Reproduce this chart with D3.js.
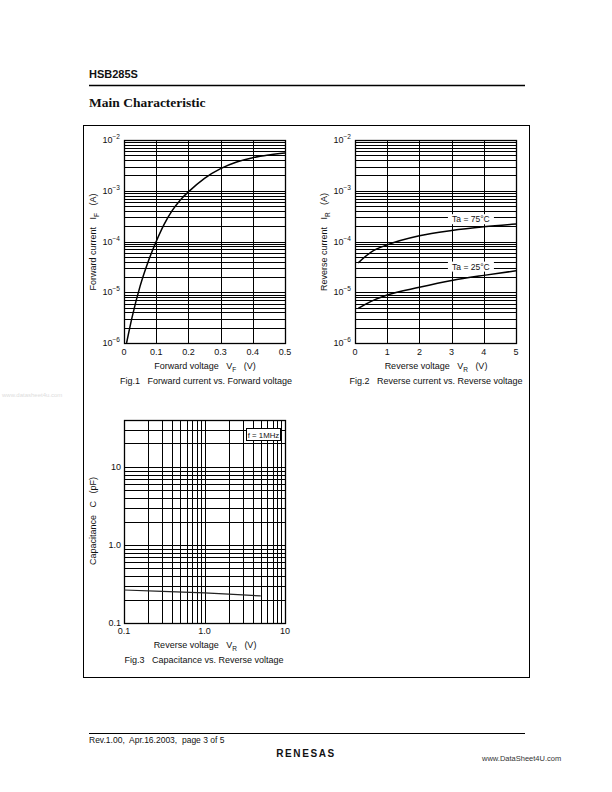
<!DOCTYPE html>
<html><head><meta charset="utf-8">
<script src="https://cdn.jsdelivr.net/npm/d3@7"></script>
<style>
body{margin:0;background:#fff;}
svg{display:block;}
text{font-family:"Liberation Sans",Arial,sans-serif;fill:#111;white-space:pre;}
</style></head>
<body>
<svg id="c" width="612" height="792"></svg>
<script>
// ---- data ----
const fig1Voltage = [0.008, 0.025, 0.05, 0.075, 0.1, 0.125, 0.15, 0.175, 0.2, 0.25, 0.3, 0.35, 0.4, 0.45, 0.5];
const fig1Current = [1e-6, 3.2e-6, 1.32e-5, 4.0e-5, 1.0e-4, 2.2e-4, 4.1e-4, 6.6e-4, 9.5e-4, 1.76e-3, 2.73e-3, 3.68e-3, 4.48e-3, 5.08e-3, 5.57e-3];
const fig1XTicks = [0, 0.1, 0.2, 0.3, 0.4, 0.5];
const fig1XTickLabels = ["0", "0.1", "0.2", "0.3", "0.4", "0.5"];

const fig2Voltage = [0.1, 0.5, 1, 2, 3, 4, 5];
const fig2Current75 = [3.8e-5, 6.2e-5, 8.6e-5, 1.3e-4, 1.65e-4, 1.95e-4, 2.2e-4];
const fig2Current25 = [4.8e-6, 6.6e-6, 8.8e-6, 1.25e-5, 1.7e-5, 2.15e-5, 2.65e-5];
const fig2XTicks = [0, 1, 2, 3, 4, 5];
const fig2SeriesLabels = ["Ta = 75°C", "Ta = 25°C"];

const logYTicks = [1e-6, 1e-5, 1e-4, 1e-3, 1e-2];
const logYExponents = ["−6", "−5", "−4", "−3", "−2"];

const fig3Voltage = [0.1, 0.3, 1, 2, 5];
const fig3Capacitance = [0.265, 0.255, 0.243, 0.235, 0.222];
const fig3XTicks = [0.1, 1, 10];
const fig3XTickLabels = ["0.1", "1.0", "10"];
const fig3YTicks = [0.1, 1, 10];
const fig3YTickLabels = ["0.1", "1.0", "10"];
const fig3Note = "f = 1MHz";

const svg = d3.select("#c");
const black = "#000";

// ---- page header / frame ----
svg.append("text").attr("x", 89).attr("y", 78).attr("font-size", 11).attr("font-weight", "bold").text("HSB285S");
svg.append("line").attr("x1", 89).attr("x2", 525).attr("y1", 85.5).attr("y2", 85.5).attr("stroke", black).attr("stroke-width", 1.3);
svg.append("text").attr("x", 89).attr("y", 107).attr("font-size", 13.5).attr("font-weight", "bold")
  .style("font-family", "'Liberation Serif','Times New Roman',serif").text("Main Characteristic");
svg.append("rect").attr("x", 83.5).attr("y", 125.5).attr("width", 446).attr("height", 552)
  .attr("fill", "none").attr("stroke", black).attr("stroke-width", 1);

// footer
svg.append("line").attr("x1", 89).attr("x2", 525).attr("y1", 733.5).attr("y2", 733.5).attr("stroke", black).attr("stroke-width", 1);
svg.append("text").attr("x", 89).attr("y", 743).attr("font-size", 8.5).text("Rev.1.00,  Apr.16.2003,  page 3 of 5");
svg.append("text").attr("x", 306).attr("y", 757).attr("font-size", 10).attr("font-weight", "bold")
  .attr("text-anchor", "middle").attr("letter-spacing", 1.6).text("RENESAS");
svg.append("text").attr("x", 482).attr("y", 761).attr("font-size", 7.5).style("fill", "#333").text("www.DataSheet4U.com");
svg.append("text").attr("x", 2).attr("y", 397).attr("font-size", 6).style("fill", "#ddd").text("www.datasheet4u.com");

function supLabel(g, x, y, exp) {
  const t = g.append("text").attr("x", x).attr("y", y).attr("text-anchor", "end").attr("font-size", 9);
  t.append("tspan").text("10");
  t.append("tspan").attr("dy", -4).attr("font-size", 6.5).text(exp);
}

function subTitle(g, x, y, pre, sym, sub, unit, rotate) {
  const t = g.append("text").attr("font-size", 9).attr("text-anchor", "middle");
  if (rotate) t.attr("transform", `translate(${x},${y}) rotate(-90)`);
  else t.attr("x", x).attr("y", y);
  t.append("tspan").text(pre + "   " + sym);
  t.append("tspan").attr("dy", 2.5).attr("font-size", 6.5).text(sub);
  t.append("tspan").attr("dy", -2.5).text("   " + unit);
}

function logMinor(lo, hi) {
  const out = [];
  for (let e = Math.floor(Math.log10(lo) + 1e-9); e < Math.log10(hi) - 1e-9; e++) {
    for (let m = 1; m <= 9; m++) {
      const v = m * Math.pow(10, e);
      if (v >= lo * 0.999 && v <= hi * 1.001) out.push(v);
    }
  }
  if (!out.some(v => Math.abs(v - hi) / hi < 1e-6)) out.push(hi);
  return out;
}

// ---- Fig 1 & 2: linear x, log y ----
function logPlot(opt) {
  const g = svg.append("g");
  const x = d3.scaleLinear().domain(opt.xDomain).range([opt.left, opt.right]);
  const y = d3.scaleLog().domain([1e-6, 1e-2]).range([opt.bottom, opt.top]);
  const grid = g.append("g").attr("stroke", black).attr("stroke-width", 1).attr("shape-rendering", "crispEdges");
  logMinor(1e-6, 1e-2).forEach(v => {
    grid.append("line").attr("x1", opt.left).attr("x2", opt.right).attr("y1", Math.round(y(v)) + 0.5).attr("y2", Math.round(y(v)) + 0.5);
  });
  opt.xTicks.forEach(v => {
    grid.append("line").attr("y1", opt.top).attr("y2", opt.bottom).attr("x1", Math.round(x(v)) + 0.5).attr("x2", Math.round(x(v)) + 0.5);
  });
  g.append("rect").attr("x", opt.left + 0.5).attr("y", opt.top + 0.5).attr("width", opt.right - opt.left).attr("height", opt.bottom - opt.top)
    .attr("fill", "none").attr("stroke", black).attr("stroke-width", 1.3);
  logYTicks.forEach((v, i) => supLabel(g, opt.left - 4, y(v) + 3, logYExponents[i]));
  opt.xTicks.forEach((v, i) => {
    g.append("text").attr("x", x(v)).attr("y", opt.bottom + 12).attr("text-anchor", "middle").attr("font-size", 9).text(opt.xLabels[i]);
  });
  const line = d3.line().x(d => x(d[0])).y(d => y(d[1])).curve(d3.curveMonotoneX);
  opt.series.forEach(s => {
    g.append("path").attr("d", line(d3.zip(s.x, s.y))).attr("fill", "none").attr("stroke", black).attr("stroke-width", 1.5);
  });
  return {g, x, y};
}

const p1 = logPlot({left: 124, right: 285, top: 140, bottom: 343, xDomain: [0, 0.5], xTicks: fig1XTicks, xLabels: fig1XTickLabels,
  series: [{x: fig1Voltage, y: fig1Current}]});
subTitle(p1.g, 96, 242, "Forward current", "I", "F", "(A)", true);
subTitle(p1.g, 205, 369, "Forward voltage", "V", "F", "(V)", false);
p1.g.append("text").attr("x", 206).attr("y", 384).attr("text-anchor", "middle").attr("font-size", 9).text("Fig.1   Forward current vs. Forward voltage");

const p2 = logPlot({left: 355, right: 516, top: 140, bottom: 343, xDomain: [0, 5], xTicks: fig2XTicks, xLabels: fig2XTicks.map(String),
  series: [{x: fig2Voltage, y: fig2Current75}, {x: fig2Voltage, y: fig2Current25}]});
subTitle(p2.g, 327, 242, "Reverse current", "I", "R", "(A)", true);
subTitle(p2.g, 436, 369, "Reverse voltage", "V", "R", "(V)", false);
p2.g.append("text").attr("x", 436).attr("y", 384).attr("text-anchor", "middle").attr("font-size", 9).text("Fig.2   Reverse current vs. Reverse voltage");
const labelPos = [[3.6, 2.75e-4], [3.6, 3.2e-5]];
fig2SeriesLabels.forEach((lab, i) => {
  const cx = p2.x(labelPos[i][0]), cy = p2.y(labelPos[i][1]);
  p2.g.append("rect").attr("x", cx - 23).attr("y", cy - 5).attr("width", 46).attr("height", 10).attr("fill", "#fff");
  p2.g.append("text").attr("x", cx).attr("y", cy + 3.2).attr("text-anchor", "middle").attr("font-size", 8.5).text(lab);
});

// ---- Fig 3: log x, log y ----
(function () {
  const left = 124, right = 285, top = 420, bottom = 623;
  const g = svg.append("g");
  const x = d3.scaleLog().domain([0.1, 10]).range([left, right]);
  const y = d3.scaleLog().domain([0.1, 40]).range([bottom, top]);
  const grid = g.append("g").attr("stroke", black).attr("stroke-width", 1).attr("shape-rendering", "crispEdges");
  logMinor(0.1, 40).forEach(v => {
    grid.append("line").attr("x1", left).attr("x2", right).attr("y1", Math.round(y(v)) + 0.5).attr("y2", Math.round(y(v)) + 0.5);
  });
  logMinor(0.1, 10).forEach(v => {
    grid.append("line").attr("y1", top).attr("y2", bottom).attr("x1", Math.round(x(v)) + 0.5).attr("x2", Math.round(x(v)) + 0.5);
  });
  g.append("rect").attr("x", left + 0.5).attr("y", top + 0.5).attr("width", right - left).attr("height", bottom - top)
    .attr("fill", "none").attr("stroke", black).attr("stroke-width", 1.3);
  fig3YTicks.forEach((v, i) => g.append("text").attr("x", left - 3).attr("y", y(v) + 3).attr("text-anchor", "end").attr("font-size", 9).text(fig3YTickLabels[i]));
  fig3XTicks.forEach((v, i) => g.append("text").attr("x", x(v)).attr("y", bottom + 11).attr("text-anchor", "middle").attr("font-size", 9).text(fig3XTickLabels[i]));
  const line = d3.line().x(d => x(d[0])).y(d => y(d[1])).curve(d3.curveMonotoneX);
  g.append("path").attr("d", line(d3.zip(fig3Voltage, fig3Capacitance))).attr("fill", "none").attr("stroke", "#222").attr("stroke-width", 1.2);
  // note box
  g.append("rect").attr("x", 246.5).attr("y", 428.5).attr("width", 34).attr("height", 12).attr("fill", "#fff").attr("stroke", black).attr("stroke-width", 1);
  g.append("text").attr("x", 263.5).attr("y", 437.5).attr("text-anchor", "middle").attr("font-size", 7.8).text(fig3Note);
  const t = g.append("text").attr("font-size", 9).attr("text-anchor", "middle").attr("transform", "translate(96,521) rotate(-90)");
  t.text("Capacitance   C   (pF)");
  subTitle(g, 205, 648, "Reverse voltage", "V", "R", "(V)", false);
  g.append("text").attr("x", 204).attr("y", 663).attr("text-anchor", "middle").attr("font-size", 9).text("Fig.3   Capacitance vs. Reverse voltage");
})();
</script>
</body></html>
